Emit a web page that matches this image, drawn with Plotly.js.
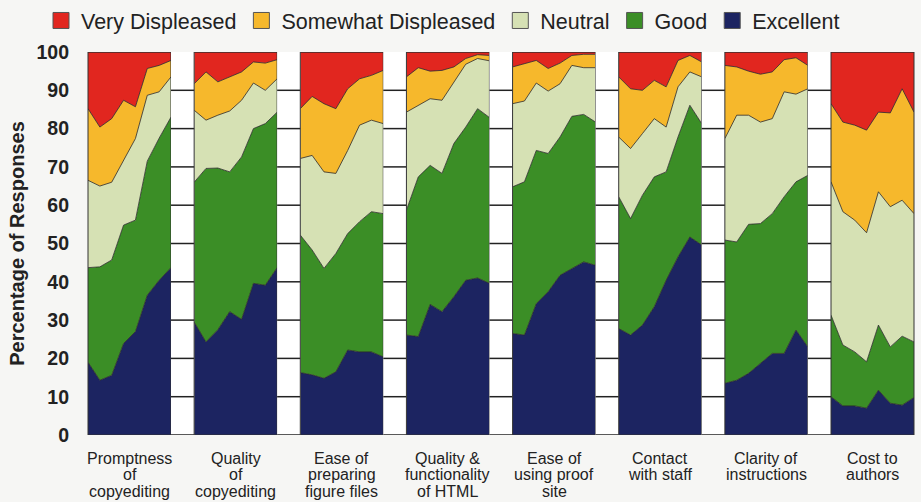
<!DOCTYPE html>
<html><head><meta charset="utf-8">
<script src="https://cdn.plot.ly/plotly-3.0.1.min.js"></script>
<style>html,body{margin:0;padding:0;background:#f6f6f4;}#chart{width:921px;height:502px;}</style>
</head><body><div id="chart"></div>
<script>
// ---------- DATA ----------
const categories = [
  "Promptness<br>of<br>copyediting",
  "Quality<br>of<br>copyediting",
  "Ease of<br>preparing<br>figure files",
  "Quality &<br>functionality<br>of HTML",
  "Ease of<br>using proof<br>site",
  "Contact<br>with staff",
  "Clarity of<br>instructions",
  "Cost to<br>authors"
];
const periods = [1, 2, 3, 4, 5, 6, 7, 8];
const seriesNames = ["Very Displeased", "Somewhat Displeased", "Neutral", "Good", "Excellent"];
const seriesColors = ["#e1261f", "#f6b82c", "#d6e1b4", "#3b8e26", "#1c2461"];
const yTicks = [0, 10, 20, 30, 40, 50, 60, 70, 80, 90, 100];

// percentage of responses per category (rows) and period (columns)
const excellent = [
  [19.0, 14.3, 15.6, 23.9, 27.0, 36.5, 40.4, 43.7],
  [29.5, 24.3, 27.5, 32.2, 30.2, 39.6, 39.1, 43.7],
  [16.3, 15.7, 14.8, 16.5, 22.2, 21.7, 21.7, 20.4],
  [26.1, 25.7, 34.1, 32.2, 36.1, 40.4, 41.0, 39.6],
  [26.5, 26.1, 34.3, 37.4, 41.7, 43.5, 45.2, 44.3],
  [27.8, 26.1, 28.7, 33.5, 40.4, 46.5, 51.7, 49.6],
  [13.5, 14.3, 16.1, 18.7, 21.3, 21.3, 27.4, 23.0],
  [10.0, 7.6, 7.6, 7.0, 11.7, 8.3, 7.8, 9.8]
];
const good = [
  [24.7, 29.6, 30.1, 30.9, 29.1, 35.0, 37.1, 39.3],
  [36.5, 45.3, 42.2, 36.5, 42.4, 40.4, 42.2, 40.6],
  [35.9, 32.6, 28.7, 30.9, 30.4, 34.0, 36.6, 37.4],
  [32.6, 41.7, 36.3, 36.1, 40.0, 40.0, 44.2, 43.3],
  [38.3, 40.0, 40.0, 36.1, 36.1, 39.7, 38.5, 37.4],
  [34.4, 30.4, 33.9, 33.9, 28.3, 31.3, 34.4, 31.7],
  [37.4, 36.1, 38.9, 36.5, 36.5, 40.9, 38.7, 44.8],
  [21.3, 15.9, 14.1, 12.1, 17.0, 14.7, 18.0, 14.5]
];
const neutral = [
  [22.8, 21.1, 20.3, 16.9, 21.3, 17.2, 12.1, 10.5],
  [18.8, 12.6, 13.8, 15.9, 14.8, 11.9, 8.7, 8.7],
  [20.0, 24.7, 25.2, 20.9, 21.7, 25.2, 23.9, 23.5],
  [25.6, 18.7, 17.4, 19.1, 16.1, 16.4, 13.1, 14.8],
  [21.7, 21.1, 17.6, 16.3, 13.9, 13.3, 12.2, 14.2],
  [15.6, 18.3, 16.1, 15.2, 11.7, 13.1, 8.7, 12.2],
  [26.5, 33.1, 28.5, 26.5, 24.8, 27.4, 22.9, 22.6],
  [34.8, 34.8, 34.4, 33.7, 34.8, 36.6, 35.5, 33.5]
];
const somewhatDispleased = [
  [18.7, 15.4, 16.6, 15.7, 8.3, 7.0, 6.9, 4.3],
  [6.9, 12.6, 8.7, 8.9, 7.4, 5.5, 7.1, 5.0],
  [13.0, 15.4, 17.8, 16.9, 16.1, 12.1, 11.7, 13.9],
  [9.2, 9.8, 7.2, 7.8, 3.9, 1.5, 1.0, 1.4],
  [9.6, 9.8, 5.9, 5.9, 5.4, 2.6, 3.5, 3.5],
  [15.7, 15.6, 11.3, 10.0, 10.5, 6.9, 4.3, 3.9],
  [19.1, 12.6, 11.5, 12.5, 12.2, 8.4, 9.5, 6.1],
  [20.4, 23.4, 24.8, 26.8, 20.8, 24.5, 29.1, 26.5]
];
const veryDispleased = [
  [14.8, 19.6, 17.4, 12.6, 14.3, 4.3, 3.5, 2.2],
  [8.3, 5.2, 7.8, 6.5, 5.2, 2.6, 2.9, 2.0],
  [14.8, 11.6, 13.5, 14.8, 9.6, 7.0, 6.1, 4.8],
  [6.5, 4.1, 5.0, 4.8, 3.9, 1.7, 0.7, 0.9],
  [3.9, 3.0, 2.2, 4.3, 2.9, 0.9, 0.6, 0.6],
  [6.5, 9.6, 10.0, 7.4, 9.1, 2.2, 0.9, 2.6],
  [3.5, 3.9, 5.0, 5.8, 5.2, 2.0, 1.5, 3.5],
  [13.5, 18.3, 19.1, 20.4, 15.7, 15.9, 9.6, 15.7]
];

// ---------- BUILD ----------
const FONT = "Liberation Sans, Arial, Helvetica, sans-serif";
const TXT = "#222222";
const nP = categories.length;
const plotW = 826;
const panelW = 83 / plotW;
const step = (1 - panelW) / (nP - 1);

// bottom-to-top stacking order, with index into seriesNames/colors
const stackOrder = [[excellent, 4], [good, 3], [neutral, 2], [somewhatDispleased, 1], [veryDispleased, 0]];

const traces = [];
const shapes = [];
const annotations = [];
const layout = {
  width: 921, height: 502, autosize: false,
  margin: {l: 88, r: 7, t: 52, b: 67, pad: 0},
  paper_bgcolor: "#f6f6f4",
  plot_bgcolor: "#f6f6f4",
  showlegend: true,
  legend: {
    orientation: "h", xref: "container", yref: "container",
    x: 41 / 921, xanchor: "left", y: 1, yanchor: "top",
    font: {family: FONT, size: 21.5, color: TXT},
    bgcolor: "rgba(0,0,0,0)", borderwidth: 0, traceorder: "normal",
    itemclick: false, itemdoubleclick: false
  },
  yaxis: {
    domain: [0, 1], anchor: "x", range: [0, 100], tickvals: yTicks,
    ticks: "", showgrid: false, zeroline: false, showline: false, fixedrange: true,
    ticklabelstandoff: 18,
    tickfont: {family: FONT, size: 19.5, weight: "bold", color: TXT},
    title: {text: "Percentage of Responses", standoff: 6,
            font: {family: FONT, size: 20, weight: "bold", color: TXT}}
  },
  shapes: shapes,
  annotations: annotations,
  hovermode: false
};

for (let p = 0; p < nP; p++) {
  const ax = p === 0 ? "x" : "x" + (p + 1);
  const key = p === 0 ? "xaxis" : "xaxis" + (p + 1);
  const d0 = p * step, d1 = p * step + panelW;
  layout[key] = {
    domain: [d0, d1], anchor: "y", range: [periods[0], periods[periods.length - 1]],
    showticklabels: false, showgrid: false, zeroline: false, ticks: "", showline: false, fixedrange: true
  };
  stackOrder.forEach(([vals, ci]) => {
    traces.push({
      type: "scatter", mode: "lines", x: periods, y: vals[p],
      xaxis: ax, yaxis: "y", stackgroup: "panel" + p,
      line: {color: "#2a2a2a", width: 0.8},
      fillcolor: seriesColors[ci], name: seriesNames[ci],
      showlegend: false, hoverinfo: "skip"
    });
  });
  // panel border
  shapes.push({type: "rect", xref: ax + " domain", yref: "y", x0: 0, x1: 1, y0: 0, y1: 100,
               line: {color: "#333333", width: 1}, fillcolor: "rgba(0,0,0,0)"});
  // white ladder gap to the right
  if (p < nP - 1) {
    const g0 = d1, g1 = (p + 1) * step;
    shapes.push({type: "rect", xref: "paper", yref: "y", x0: g0, x1: g1, y0: 0, y1: 100,
                 line: {width: 0}, fillcolor: "#ffffff"});
    yTicks.slice(0, -1).forEach(t => {
      shapes.push({type: "line", xref: "paper", yref: "y", x0: g0, x1: g1, y0: t, y1: t,
                   line: {color: "#222222", width: 1.5}});
    });
  }
  // category label lines
  categories[p].split("<br>").forEach((t, i) => {
    annotations.push({xref: ax + " domain", x: 0.5, yref: "paper", y: 0, yanchor: "middle",
      yshift: -(23 + i * 16.5), text: t, showarrow: false,
      font: {family: FONT, size: 16, color: TXT}});
  });
}

// legend entries
seriesNames.forEach((n, i) => {
  traces.push({type: "scatter", mode: "markers", x: [null], y: [null], xaxis: "x", yaxis: "y",
    name: n, showlegend: true, hoverinfo: "skip",
    marker: {symbol: "square", size: 19, color: seriesColors[i], line: {color: "#555555", width: 1}}});
});

Plotly.newPlot("chart", traces, layout, {displayModeBar: false, staticPlot: true});
</script>
</body></html>
